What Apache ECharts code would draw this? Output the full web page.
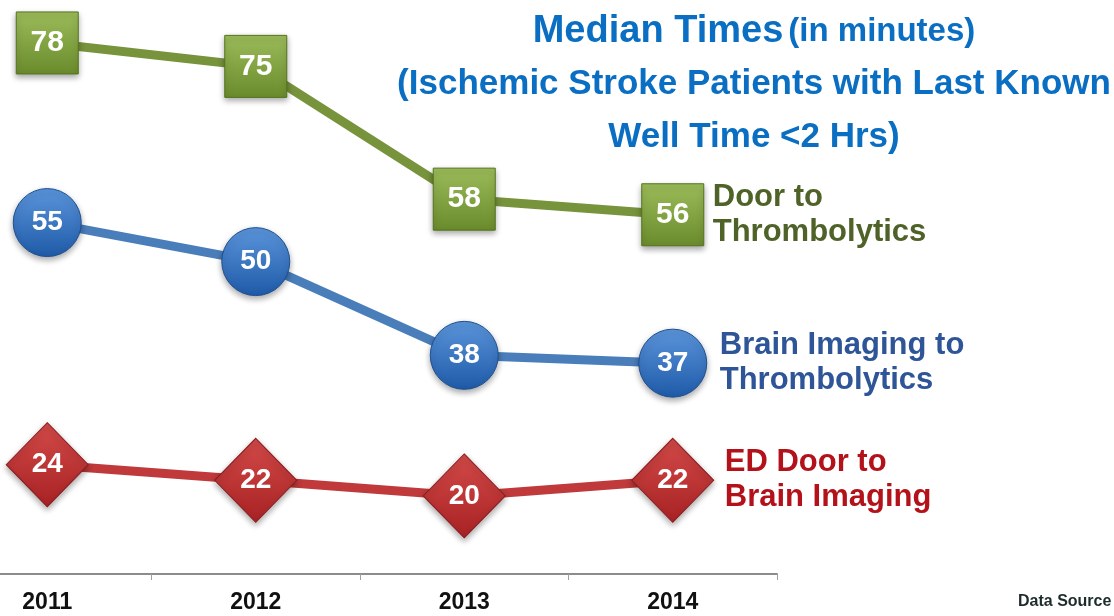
<!DOCTYPE html>
<html>
<head>
<meta charset="utf-8">
<script src="https://cdn.jsdelivr.net/npm/echarts@6/dist/echarts.min.js"></script>
<style>
html,body{margin:0;padding:0;background:#fff;}
#main{width:1114px;height:616px;}
</style>
</head>
<body>
<div id="main"></div>
<script>
/*数据*/
var years = ['2011', '2012', '2013', '2014'];
var doorToThrombo = [78, 75, 58, 56];
var imagingToThrombo = [55, 50, 38, 37];
var edDoorToImaging = [24, 22, 20, 22];
var endNames = ['Door to\nThrombolytics', 'Brain Imaging to\nThrombolytics', 'ED Door to\nBrain Imaging'];
var titleLines = ['Median Times', '(in minutes)', '(Ischemic Stroke Patients with Last Known', 'Well Time <2 Hrs)'];
var sourceText = 'Data Source';

var font = '"Liberation Sans", Arial, sans-serif';

function grad(top, bottom){
	return new echarts.graphic.LinearGradient(0, 0, 0, 1, [
		{offset: 0, color: top},
		{offset: 1, color: bottom}
	]);
}

function makeSeries(name, data, symbol, size, lineColor, fillTop, fillBottom, border, labelColor, dist, valSize){
	return {
		name: name,
		type: 'line',
		data: data,
		symbol: symbol,
		symbolSize: size,
		z: 3,
		lineStyle: {color: lineColor, width: 9},
		itemStyle: {
			color: grad(fillTop, fillBottom),
			borderColor: border,
			borderWidth: 1,
			shadowBlur: 6,
			shadowOffsetY: 3,
			shadowColor: 'rgba(0,0,0,0.35)'
		},
		label: {
			show: true,
			position: 'inside',
			color: '#fff',
			fontFamily: font,
			fontWeight: 'bold',
			fontSize: valSize
		},
		endLabel: {
			show: true,
			formatter: name,
			distance: dist,
			color: labelColor,
			fontFamily: font,
			fontWeight: 'bold',
			fontSize: 31,
			lineHeight: 35,
			align: 'left'
		}
	};
}

var option;
function setoption(){
	option = {
    animation: false,
    title: {
        left: 749,
        top: 0,
        textAlign: 'center',
        text: '{a|' + titleLines[0] + '} {b|' + titleLines[1] + '}\n{c|' + titleLines[2] + '}\n{c|' + titleLines[3] + '}',
        textStyle: {
            rich: {
                a: {fontFamily: font, fontWeight: 'bold', fontSize: 38, color: '#0a6fc2', lineHeight: 53},
                b: {fontFamily: font, fontWeight: 'bold', fontSize: 33, color: '#0a6fc2', lineHeight: 53},
                c: {fontFamily: font, fontWeight: 'bold', fontSize: 35, color: '#0a6fc2', lineHeight: 53}
            }
        }
    },
    grid: {
        left: -57,
        right: 337,
        top: 0,
        bottom: 42,
        outerBoundsMode: 'none'
    },
    xAxis: {
        type: 'category',
        data: years,
        boundaryGap: true,
        axisLine: {lineStyle: {color: '#8c8c8c', width: 2}},
        axisTick: {show: true, length: 6, lineStyle: {color: '#a0a0a0', width: 1}},
        axisLabel: {
            margin: 17,
            color: '#111',
            fontFamily: font,
            fontWeight: 'bold',
            fontSize: 23
        }
    },
    yAxis: {
        type: 'value',
        min: 10,
        max: 83.5,
        show: false,
        splitLine: {show: false}
    },
    graphic: [{
        type: 'text',
        left: 1018,
        top: 594,
        style: {
            text: sourceText,
            fill: '#1d2b2b',
            font: 'bold 16px ' + font
        }
    }],
    series: [
        makeSeries(endNames[0], doorToThrombo, 'rect', 62, '#77933c', '#9cbc5a', '#6a8b2c', '#55731e', '#4f6228', 40, 30),
        makeSeries(endNames[1], imagingToThrombo, 'circle', 68, '#4a7ebb', '#5b95db', '#1f5aa8', '#1d4f91', '#2e5597', 47, 28),
        makeSeries(endNames[2], edDoorToImaging, 'diamond', [82, 84], '#c0393b', '#d24a48', '#a92224', '#8e1b1d', '#b3121b', 52, 28)
    ]
};
}

setoption();
echarts.init(document.getElementById('main')).setOption(option);
</script>
</body>
</html>
